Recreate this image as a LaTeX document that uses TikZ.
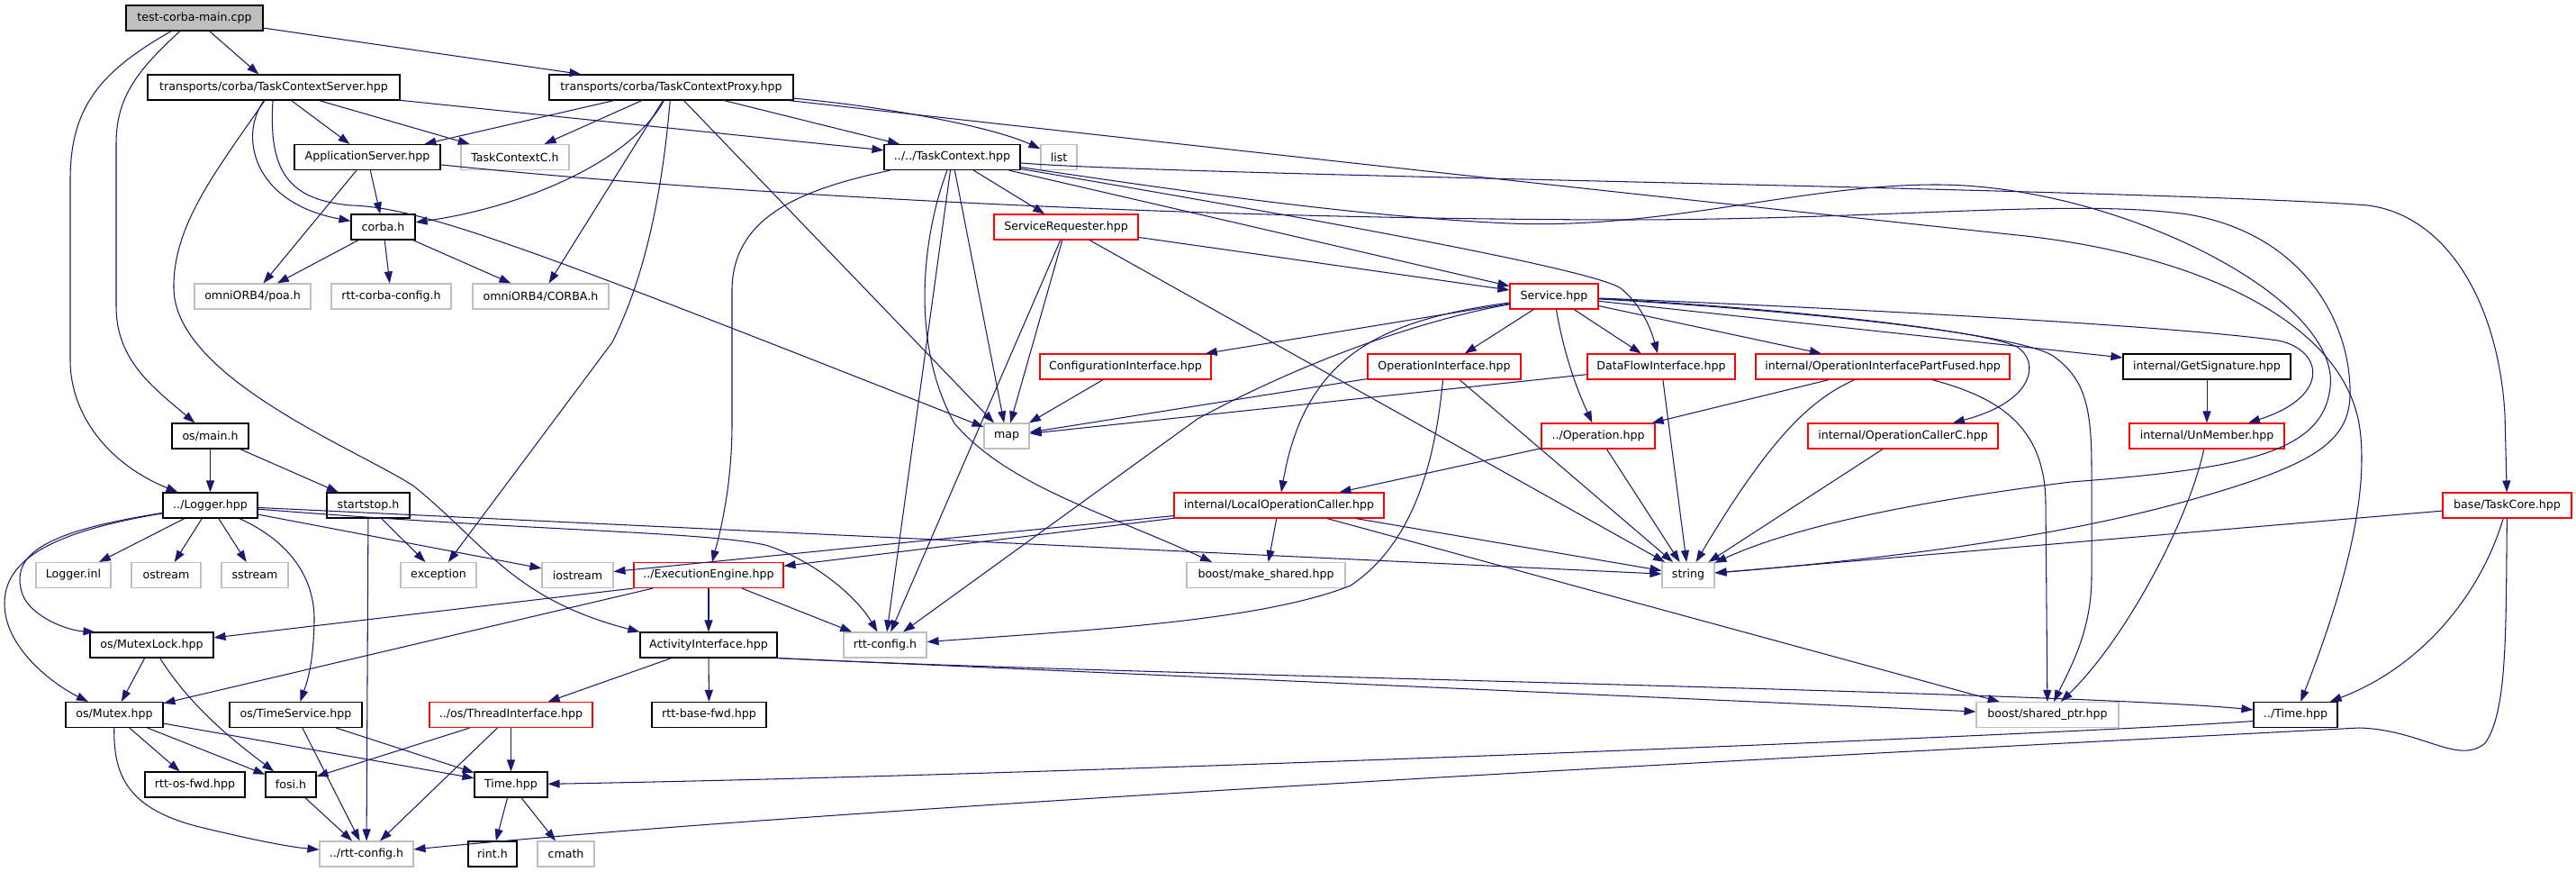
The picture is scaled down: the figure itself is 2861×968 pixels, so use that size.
\documentclass[tikz,border=0pt]{standalone}
\usepackage{fontspec}
\newfontfamily\dvs{DejaVu Sans}
\usetikzlibrary{arrows.meta}
\definecolor{edgeblue}{HTML}{191970}
\definecolor{boxgray}{HTML}{BFBFBF}
\definecolor{boxred}{HTML}{FF0000}
\definecolor{rootgray}{HTML}{BFBFBF}
\begin{document}
\begin{tikzpicture}[x=1pt,y=-1pt,
  nbase/.style={rectangle, draw, minimum height=28pt, inner sep=0pt, line width=1.1pt, fill=white, font=\dvs\fontsize{12.6pt}{15pt}\selectfont},
  nblack/.style={nbase, draw=black},
  ngray/.style={nbase, draw=boxgray},
  nred/.style={nbase, draw=boxred},
  nroot/.style={nbase, draw=black, fill=rootgray},
  edge/.style={draw=edgeblue, line width=1.05pt, -{Triangle[length=13pt,width=9pt]}}]
\useasboundingbox[fill=white] (0,0) rectangle (2861,968);

% nodes
\node[nroot, minimum width=152] (root) at (216,20) {test-corba-main.cpp};
\node[nblack, minimum width=280] (tcs) at (304,97) {transports/corba/TaskContextServer.hpp};
\node[nblack, minimum width=271] (tcp) at (745.5,97) {transports/corba/TaskContextProxy.hpp};
\node[nblack, minimum width=162] (appsrv) at (408,174.5) {ApplicationServer.hpp};
\node[ngray, minimum width=120] (tcc) at (572,174.5) {TaskContextC.h};
\node[nblack, minimum width=151] (tctx) at (1057.5,174.5) {../../TaskContext.hpp};
\node[ngray, minimum width=40] (list) at (1176,174.5) {list};
\node[nblack, minimum width=71] (corba) at (425.5,252) {corba.h};
\node[nred, minimum width=160] (sreq) at (1184,252) {ServiceRequester.hpp};
\node[ngray, minimum width=129] (poa) at (280.5,329) {omniORB4/poa.h};
\node[ngray, minimum width=133] (rcc) at (434.5,329) {rtt-corba-config.h};
\node[ngray, minimum width=151] (corbah) at (600.5,329) {omniORB4/CORBA.h};
\node[nred, minimum width=98] (svc) at (1726,329) {Service.hpp};
\node[nred, minimum width=190] (cfgif) at (1250,407) {ConfigurationInterface.hpp};
\node[nred, minimum width=170] (opif) at (1604,407) {OperationInterface.hpp};
\node[nred, minimum width=164] (dfif) at (1845,407) {DataFlowInterface.hpp};
\node[nred, minimum width=282] (oipf) at (2091,407) {internal/OperationInterfacePartFused.hpp};
\node[nblack, minimum width=186] (getsig) at (2451,407) {internal/GetSignature.hpp};
\node[nblack, minimum width=85] (osmain) at (233.5,484) {os/main.h};
\node[ngray, minimum width=50] (map) at (1118,484) {map};
\node[nred, minimum width=126] (oper) at (1775,484) {../Operation.hpp};
\node[nred, minimum width=211] (occ) at (2113.5,484) {internal/OperationCallerC.hpp};
\node[nred, minimum width=172] (unmem) at (2451,484) {internal/UnMember.hpp};
\node[nblack, minimum width=105] (logger) at (233.5,561) {../Logger.hpp};
\node[nblack, minimum width=92] (startstop) at (409,561) {startstop.h};
\node[nred, minimum width=233] (locc) at (1420.5,561) {internal/LocalOperationCaller.hpp};
\node[nred, minimum width=143] (taskcore) at (2784.5,561) {base/TaskCore.hpp};
\node[ngray, minimum width=83] (loggerinl) at (81.5,638.5) {Logger.inl};
\node[ngray, minimum width=77] (ostream) at (184.5,638.5) {ostream};
\node[ngray, minimum width=74] (sstream) at (283,638.5) {sstream};
\node[ngray, minimum width=84] (exception) at (487,638.5) {exception};
\node[ngray, minimum width=79] (iostream) at (641.5,638.5) {iostream};
\node[nred, minimum width=166] (exeng) at (787,638.5) {../ExecutionEngine.hpp};
\node[ngray, minimum width=176] (mkshared) at (1406,638.5) {boost/make\_shared.hpp};
\node[ngray, minimum width=58] (string) at (1875,638.5) {string};
\node[nblack, minimum width=137] (mutexlock) at (168.5,716) {os/MutexLock.hpp};
\node[nblack, minimum width=152] (actif) at (787,716) {ActivityInterface.hpp};
\node[ngray, minimum width=92] (rttcfg) at (983,716) {rtt-config.h};
\node[nblack, minimum width=108] (mutex) at (127,793.5) {os/Mutex.hpp};
\node[nblack, minimum width=147] (timesvc) at (328.5,793.5) {os/TimeService.hpp};
\node[nred, minimum width=181] (thrif) at (567.5,793.5) {../os/ThreadInterface.hpp};
\node[nblack, minimum width=127] (basefwd) at (787.5,793.5) {rtt-base-fwd.hpp};
\node[ngray, minimum width=158] (shptr) at (2274,793.5) {boost/shared\_ptr.hpp};
\node[nblack, minimum width=93] (timeR) at (2549.5,793.5) {../Time.hpp};
\node[nblack, minimum width=111] (osfwd) at (216.5,871) {rtt-os-fwd.hpp};
\node[nblack, minimum width=56] (fosi) at (323,871) {fosi.h};
\node[nblack, minimum width=81] (timeh) at (567.5,871) {Time.hpp};
\node[ngray, minimum width=104] (rttcfgup) at (407,948) {../rtt-config.h};
\node[nblack, minimum width=54] (rint) at (547,948) {rint.h};
\node[ngray, minimum width=63] (cmath) at (628.5,948) {cmath};

% root
\draw[edge] (root) -- (tcs);
\draw[edge] (root) -- (tcp);
\draw[edge] (root) .. controls (150,80) and (129,110) .. (129,160) -- (129,340) .. controls (129,400) and (170,430) .. (osmain);
\draw[edge] (root) .. controls (110,80) and (78,120) .. (78,200) -- (78,400) .. controls (78,460) and (120,515) .. (logger);

% TaskContextServer
\draw[edge] (tcs) -- (appsrv);
\draw[edge] (tcs) -- (tcc);
\draw[edge] (tcs) -- (tctx);
\draw[edge] (tcs) .. controls (265,150) and (280,225) .. (corba);
\draw[edge] (tcs) .. controls (298,190) and (320,222) .. (390,228) .. controls (470,230) and (600,280) .. (map);
\draw[edge] (tcs) .. controls (240,190) and (192,250) .. (193,320) .. controls (194,420) and (400,500) .. (460,540) .. controls (540,605) and (570,665) .. (actif.north west);

% TaskContextProxy
\draw[edge] (tcp) -- (appsrv);
\draw[edge] (tcp) -- (tcc);
\draw[edge] (tcp) .. controls (700,180) and (580,230) .. (corba);
\draw[edge] (tcp) -- (corbah);
\draw[edge] (tcp) .. controls (735,220) and (715,310) .. (680,380) -- (exception);
\draw[edge] (tcp) -- (map);
\draw[edge] (tcp) -- (tctx);
\draw[edge] (tcp) .. controls (980,118) and (1100,140) .. (list);
\draw[edge] (tcp) .. controls (1400,170) and (1900,225) .. (2250,262) .. controls (2450,285) and (2600,360) .. (2620,470) .. controls (2635,560) and (2590,690) .. (timeR);

% ApplicationServer
\draw[edge] (appsrv) -- (corba);
\draw[edge] (appsrv) -- (poa);
\draw[edge] (appsrv) .. controls (800,215) and (1300,243) .. (1800,244) .. controls (2100,244) and (2300,220) .. (2430,238) .. controls (2560,260) and (2612,360) .. (2610,440) .. controls (2608,490) and (2570,515) .. (2450,550) .. controls (2300,595) and (2100,620) .. (string);

% corba.h
\draw[edge] (corba) -- (poa);
\draw[edge] (corba) -- (rcc);
\draw[edge] (corba) -- (corbah);

% TaskContext
\draw[edge] (tctx) .. controls (890,210) and (815,240) .. (813,320) -- (813,470) .. controls (813,540) and (800,590) .. (exeng);
\draw[edge] (tctx) -- (rttcfg);
\draw[edge] (tctx) .. controls (1025,260) and (1010,380) .. (1060,470) .. controls (1120,540) and (1230,570) .. ([xshift=-60pt]mkshared.north);
\draw[edge] (tctx) -- (map);
\draw[edge] (tctx) -- (sreq);
\draw[edge] (tctx) -- (svc);
\draw[edge] (tctx) .. controls (1500,250) and (1770,300) .. (1800,320) .. controls (1825,340) and (1835,370) .. (dfif);
\draw[edge] (tctx) .. controls (1300,210) and (1500,240) .. (1676,248) .. controls (1850,255) and (2000,205) .. (2150,205) .. controls (2350,205) and (2600,330) .. (2588,430) .. controls (2580,500) and (2500,520) .. (2300,535) .. controls (2100,560) and (1980,590) .. (string);
\draw[edge] (tctx) .. controls (1300,195) and (2400,210) .. (2630,228) .. controls (2720,240) and (2775,340) .. (2782,460) -- (taskcore);

% ServiceRequester
\draw[edge] (sreq) -- (svc);
\draw[edge] (sreq) -- (map);
\draw[edge] (sreq) -- (rttcfg);
\draw[edge] (sreq) -- (string);

\draw[edge] (cfgif) -- (map);

% Service
\draw[edge] (svc) -- (cfgif);
\draw[edge] (svc) -- (opif);
\draw[edge] (svc) .. controls (1738,400) and (1755,440) .. (oper);
\draw[edge] (svc) -- (dfif);
\draw[edge] (svc) -- (oipf);
\draw[edge] (svc) -- (getsig);
\draw[edge] (svc) .. controls (2000,340) and (2400,360) .. (2530,378) .. controls (2580,388) and (2590,440) .. (unmem);
\draw[edge] (svc) .. controls (1950,340) and (2200,365) .. (2240,385) .. controls (2265,400) and (2262,445) .. (occ);
\draw[edge] (svc) .. controls (2000,345) and (2240,370) .. (2280,395) .. controls (2315,420) and (2323,450) .. (2323,520) -- (2323,640) .. controls (2323,700) and (2300,740) .. (shptr);
\draw[edge] (svc) .. controls (1580,355) and (1450,400) .. (1330,465) -- (rttcfg);
\draw[edge] (svc) .. controls (1540,355) and (1450,390) .. (locc);

% OperationInterface
\draw[edge] (opif) -- (map);
\draw[edge] (opif) -- (string);
\draw[edge] (opif) .. controls (1595,500) and (1575,600) .. (1500,650) .. controls (1400,690) and (1200,700) .. (rttcfg);

% DataFlowInterface
\draw[edge] (dfif) -- (map);
\draw[edge] (dfif) -- (string);

% OperationInterfacePartFused
\draw[edge] (oipf) -- (oper);
\draw[edge] (oipf) .. controls (2020,440) and (1975,470) .. (string);
\draw[edge] (oipf) .. controls (2215,440) and (2272,470) .. (2272,560) -- (shptr);

\draw[edge] (occ) -- (string);
\draw[edge] (oper) -- (locc);
\draw[edge] (oper) -- (string);
\draw[edge] (getsig) -- (unmem);
\draw[edge] (unmem) .. controls (2430,580) and (2360,710) .. (shptr);

% LocalOperationCaller
\draw[edge] (locc) -- (iostream);
\draw[edge] (locc) -- (exeng);
\draw[edge] (locc) -- (mkshared);
\draw[edge] (locc) -- (string);
\draw[edge] (locc) -- (shptr);

% ExecutionEngine
\draw[edge] (exeng) -- (actif);
\draw[edge] (exeng) -- (rttcfg);
\draw[edge] (exeng.south west) -- (mutexlock);
\draw[edge] (exeng) -- (mutex);

% ActivityInterface
\draw[edge] (actif) -- (basefwd);
\draw[edge] (actif) -- (thrif);
\draw[edge] (actif.south east) .. controls (1200,748) and (2300,768) .. ([yshift=5.5pt]timeR.west);
\draw[edge] (actif.south east) -- (shptr);

% TaskCore
\draw[edge] (taskcore) -- (string);
\draw[edge] (taskcore) .. controls (2755,660) and (2690,740) .. (timeR);
\draw[edge] (taskcore) .. controls (2783,700) and (2785,790) .. (2760,825) .. controls (2730,850) and (2690,810) .. (2620,808) .. controls (2200,830) and (1000,890) .. (rttcfgup);

\draw[edge] ([yshift=-7pt]timeR.west) .. controls (2300,815) and (1200,860) .. (timeh);

% os/main.h and Logger
\draw[edge] (osmain) -- (logger);
\draw[edge] (osmain) -- (startstop);
\draw[edge] (logger) -- (loggerinl);
\draw[edge] (logger) -- (ostream);
\draw[edge] (logger) -- (sstream);
\draw[edge] (logger) -- (iostream);
\draw[edge] (logger) -- (string);
\draw[edge] (logger) .. controls (600,590) and (780,590) .. (850,605) .. controls (900,620) and (950,660) .. (rttcfg);
\draw[edge] (logger) .. controls (50,590) and (10,615) .. (25,660) .. controls (35,685) and (75,700) .. ([xshift=6pt]mutexlock.north west);
\draw[edge] (logger) .. controls (60,590) and (5,620) .. (5,670) .. controls (5,720) and (60,760) .. (mutex);
\draw[edge] (logger) .. controls (320,600) and (350,640) .. (349,690) .. controls (348,740) and (340,760) .. (timesvc);

% startstop
\draw[edge] (startstop) -- (exception);
\draw[edge] (startstop) -- (rttcfgup);

% MutexLock, Mutex
\draw[edge] (mutexlock) -- (mutex);
\draw[edge] (mutexlock) .. controls (215,790) and (270,830) .. (fosi);
\draw[edge] (mutex) -- (osfwd);
\draw[edge] (mutex) -- (fosi);
\draw[edge] (mutex) -- (timeh);
\draw[edge] (mutex) .. controls (126,860) and (140,900) .. (230,920) .. controls (280,932) and (320,940) .. (rttcfgup);

% TimeService, ThreadInterface
\draw[edge] (timesvc) -- (timeh);
\draw[edge] (timesvc) -- (rttcfgup);
\draw[edge] (thrif) -- (fosi);
\draw[edge] (thrif) -- (rttcfgup);
\draw[edge] (thrif) -- (timeh);

\draw[edge] (fosi) -- (rttcfgup);
\draw[edge] (timeh) -- (rint);
\draw[edge] (timeh) -- (cmath);
\end{tikzpicture}
\end{document}
